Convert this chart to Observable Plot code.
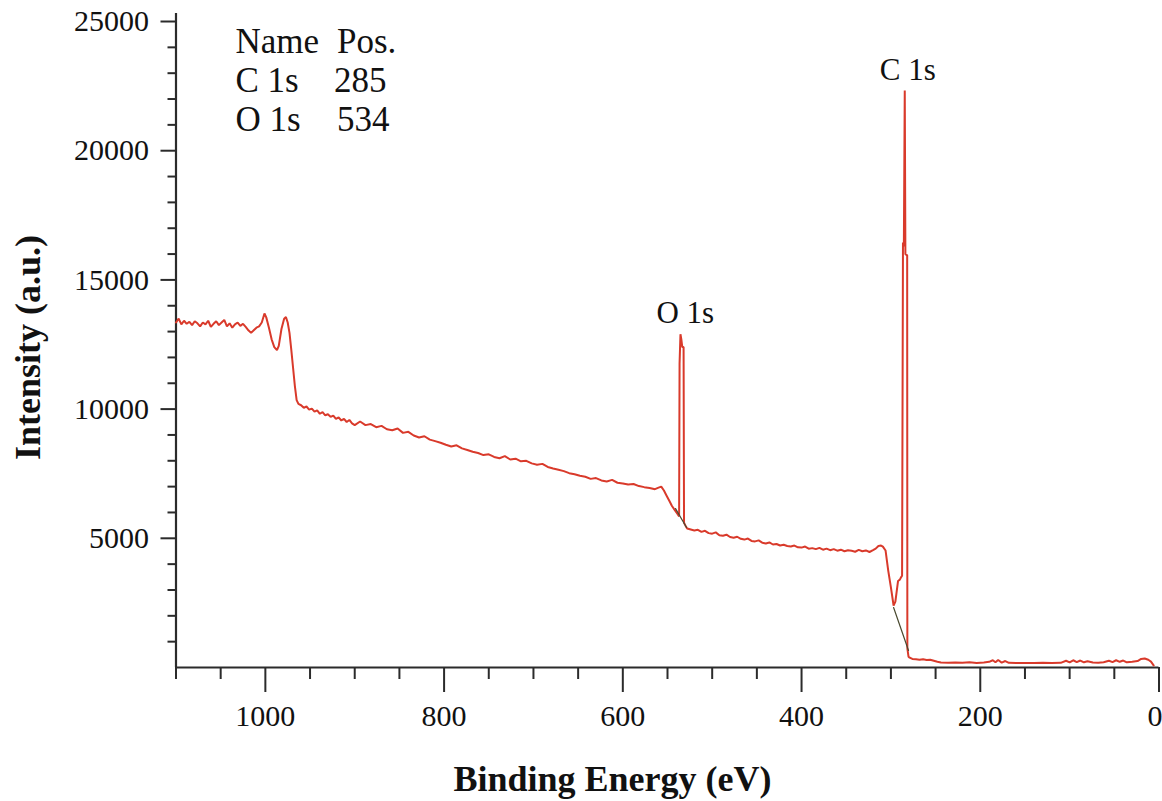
<!DOCTYPE html>
<html>
<head>
<meta charset="utf-8">
<script src="https://cdn.jsdelivr.net/npm/d3@7"></script>
<script src="https://cdn.jsdelivr.net/npm/@observablehq/plot@0.6"></script>
<style>
  html, body { margin: 0; padding: 0; background: #fff; }
  #chart svg { display: block; }
  #chart svg text { font-family: 'Liberation Serif', 'Times New Roman', Times, serif !important; }
</style>
</head>
<body>
<div id="chart"></div>
<script>
// Binding energy (eV) and intensity (a.u.)
const energy = [
  1100,1097,1094,1091,1088,1085,1082,1079,1076,1073,1070,1067,1064,1061,1058,1055,1052,1049,1046,1043,
  1040,1037,1034,1031,1028,1025,1022,1019,1016,1013,1010,1007,1004,1001,999,996,993,990,987,985,
  982,979,977,975,973,971,969,967,965,963,960,957,954,951,948,945,942,939,936,933,
  930,927,924,921,918,915,912,909,906,903,900,894,888,882,876,870,864,858,852,846,
  840,834,828,822,816,810,804,798,792,786,780,774,768,762,756,750,744,738,732,726,
  720,714,708,702,696,690,684,678,672,666,660,654,648,642,636,630,624,618,612,606,
  600,594,588,582,576,570,564,560,557,554,551,548,545,542,539,537,536.5,535.5,534.5,533.5,
  532,531.5,530,528,525,520,516,512,508,504,500,496,492,488,484,480,476,472,468,464,
  460,456,452,448,444,440,436,432,428,424,420,416,412,408,404,400,396,392,388,384,
  380,376,372,368,364,360,356,352,348,344,340,336,332,328,324,320,317,314,311,309,
  306,303,300,297,295,292,290,288.5,287.5,286.5,285.5,284.5,283.8,281.8,281.6,280.3,279,276,272,268,
  264,260,256,252,248,244,236,228,220,212,204,196,190,186,183,180,176,172,168,160,
  150,140,130,120,110,104,100,96,92,88,84,80,74,68,62,56,52,48,44,40,
  36,30,24,20,16,12,9,6
];
const intensity = [
  13350,13500,13280,13420,13300,13380,13250,13400,13320,13200,13350,13280,13420,13180,13300,13400,13250,13350,13450,13200,
  13320,13150,13280,13350,13220,13300,13180,13050,12950,13050,13150,13200,13350,13700,13550,13150,12700,12400,12280,12450,
  13100,13500,13560,13350,12950,12300,11600,10900,10350,10200,10150,10050,10100,9980,10020,9900,9950,9820,9880,9760,
  9800,9700,9750,9620,9680,9560,9620,9500,9580,9450,9380,9520,9380,9420,9300,9350,9220,9180,9250,9080,
  9120,8980,8900,8950,8820,8760,8700,8620,8550,8600,8480,8420,8350,8300,8220,8250,8150,8100,8180,8050,
  8080,7980,8000,7900,7850,7880,7760,7700,7650,7600,7520,7480,7420,7380,7300,7330,7240,7200,7260,7150,
  7120,7080,7100,7020,6980,6950,6900,6960,7000,6850,6650,6450,6250,6100,5950,5850,11750,12900,12700,12400,
  12400,5600,5500,5380,5350,5300,5330,5250,5290,5200,5180,5230,5120,5100,5140,5050,5020,5060,4980,4950,
  4990,4900,4880,4920,4830,4800,4840,4760,4780,4720,4750,4700,4680,4720,4650,4640,4680,4600,4620,4580,
  4630,4560,4600,4540,4580,4520,4560,4500,4540,4520,4480,4550,4500,4530,4470,4540,4600,4700,4720,4680,
  4530,3750,3100,2400,2550,3350,3400,3500,3550,16450,16300,22330,16000,15950,740,420,380,330,320,300,
  320,290,300,260,220,190,185,195,180,200,175,190,220,280,200,290,190,250,180,170,
  175,170,180,175,180,260,200,280,210,270,200,240,190,185,200,260,210,280,220,270,
  200,220,250,330,350,300,230,80
];

// Background (fit baseline) segments under the two peaks
const bgOEnergy = [541, 528.7];
const bgOValue = [6150, 5420];
const bgCEnergy = [297, 280.3];
const bgCValue = [2320, 660];

// Peak table
const peakNames = ["C 1s", "O 1s"];
const peakPos = [285, 534];
const tableHeader = ["Name", "Pos."];

// Axis ticks
const xMajor = [1000, 800, 600, 400, 200];
const xEnd = [0];
const xMinor = [1100, 1050, 950, 900, 850, 750, 700, 650, 550, 500, 450, 350, 300, 250, 150, 100, 50];
const yMajor = [5000, 10000, 15000, 20000, 25000];
const yMinor = [1000, 2000, 3000, 4000, 6000, 7000, 8000, 9000, 11000, 12000, 13000, 14000,
                16000, 17000, 18000, 19000, 21000, 22000, 23000, 24000];

const spectrum = energy.map((e, i) => ({e, v: intensity[i]}));
const bgO = bgOEnergy.map((e, i) => ({e, v: bgOValue[i]}));
const bgC = bgCEnergy.map((e, i) => ({e, v: bgCValue[i]}));
const peaks = peakNames.map((name, i) => {
  const p = peakPos[i];
  const top = d3.max(spectrum.filter(d => Math.abs(d.e - p) <= 3), d => d.v);
  return {name, pos: p, top};
});

const serif = "'Liberation Serif', 'Times New Roman', Times, serif";
const axisColor = "#2b2b2b";
const lineColor = "#d93a2b";

const rows = [tableHeader, ...peaks.map(d => [d.name, String(d.pos)])];
const tableMarks = [];
rows.forEach((r, i) => {
  tableMarks.push(Plot.text([r[0]], {frameAnchor: "top-left", dx: 59.5, dy: 39 + i * 39.2, lineAnchor: "bottom", textAnchor: "start", fontSize: 35, fill: "#111", fontFamily: serif}));
  tableMarks.push(Plot.text([r[1]], {frameAnchor: "top-left", dx: i === 1 ? 158 : 161, dy: 39 + i * 39.2, lineAnchor: "bottom", textAnchor: "start", fontSize: 35, fill: "#111", fontFamily: serif}));
});

const chart = Plot.plot({
  width: 1162,
  height: 801,
  marginLeft: 175.5,
  marginRight: 3.5,
  marginTop: 13,
  marginBottom: 134,
  x: {domain: [1100, 0]},
  y: {domain: [0, 25310]},
  style: {fontFamily: serif, background: "#fff"},
  marks: [
    Plot.axisY(yMinor, {tickSize: 8, tickFormat: () => "", color: axisColor, strokeWidth: 2, label: null}),
    Plot.axisY(yMajor, {tickSize: 15, tickPadding: 12, fontSize: 30, tickFormat: d3.format("d"), color: axisColor, fill: "#111", strokeWidth: 2, label: null}),
    Plot.axisX(xMinor, {tickSize: 12, tickFormat: () => "", color: axisColor, strokeWidth: 2, label: null}),
    Plot.axisX(xMajor, {tickSize: 25, tickPadding: 12, fontSize: 30, tickFormat: d3.format("d"), color: axisColor, fill: "#111", strokeWidth: 2, label: null}),
    Plot.axisX(xEnd, {tickSize: 25, tickFormat: () => "", color: axisColor, strokeWidth: 2, label: null}),
    Plot.text(xEnd, {x: d => d, frameAnchor: "bottom", dy: 37, dx: -4, lineAnchor: "top", fontSize: 30, fill: "#111", text: d => String(d)}),
    Plot.ruleX([1100], {stroke: axisColor, strokeWidth: 2.2}),
    Plot.ruleY([0], {stroke: axisColor, strokeWidth: 2.2}),
    Plot.line(spectrum, {x: "e", y: "v", stroke: lineColor, strokeWidth: 2, strokeLinejoin: "miter"}),
    Plot.line(bgO, {x: "e", y: "v", stroke: "#4a4a30", strokeWidth: 1.2}),
    Plot.line(bgC, {x: "e", y: "v", stroke: "#4a4a30", strokeWidth: 1.2}),
    Plot.text(peaks, {x: "pos", y: "top", text: "name", dx: 3.5, dy: -11, lineAnchor: "bottom", textAnchor: "middle", fontSize: 31, fill: "#111"}),
    ...tableMarks,
    Plot.text(["Binding Energy (eV)"], {frameAnchor: "bottom", dx: -55, dy: 123, lineAnchor: "bottom", textAnchor: "middle", fontSize: 36, fontWeight: "bold", fill: "#111"}),
    Plot.text(["Intensity (a.u.)"], {frameAnchor: "left", dx: -148, dy: 7, rotate: -90, textAnchor: "middle", fontSize: 36, fontWeight: "bold", fill: "#111"})
  ]
});
document.getElementById("chart").appendChild(chart);
</script>
</body>
</html>
